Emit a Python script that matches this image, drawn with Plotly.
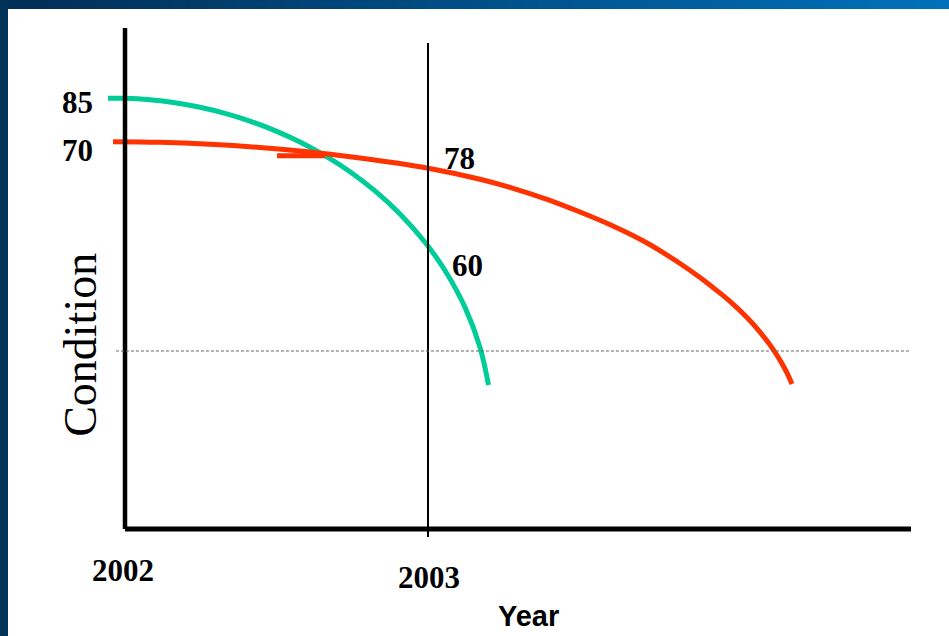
import plotly.graph_objects as go

# Condition curves over time (year, condition index)
green_years = [2001.9439, 2002.0000, 2002.0825, 2002.1650, 2002.2475, 2002.3300,
               2002.4125, 2002.4950, 2002.5776, 2002.6601, 2002.7426, 2002.8251,
               2002.9076, 2002.9901, 2003.0561, 2003.1221, 2003.1716, 2003.1997]
green_cond = [86.14, 86.14, 85.84, 85.24, 84.34, 83.12, 81.58, 79.68, 77.40, 74.68,
              71.46, 67.62, 63.02, 57.36, 51.70, 44.32, 36.32, 28.80]

red_years = [2001.9604, 2002.1155, 2002.2805, 2002.4455, 2002.6106, 2002.7756,
             2002.9967, 2003.1716, 2003.2805, 2003.3927, 2003.5017, 2003.6106,
             2003.7228, 2003.8317, 2003.8977, 2003.9406, 2003.9967, 2004.0528,
             2004.0957, 2004.1386, 2004.1782, 2004.2013]
red_cond = [77.46, 77.34, 76.94, 76.30, 75.40, 74.20, 72.20, 69.94, 68.14, 65.94,
            63.40, 60.60, 57.20, 53.10, 50.30, 48.30, 45.52, 42.28, 39.38, 35.96,
            32.00, 29.02]

# short overlapping red stroke
red_tail_years = [2002.5017, 2002.6601]
red_tail_cond = [74.64, 74.64]

# value labels: (text, year, condition)
value_labels = [("85", 2001.843, 85.3), ("70", 2001.843, 75.8),
                ("78", 2003.104, 74.2), ("60", 2003.129, 52.8)]
year_ticks = [("2002", 2001.993, -8.2), ("2003", 2003.003, -9.6)]

threshold = 35.6
x_start, x_end = 2002.0, 2004.594
y_top = 100.2
marker_year = 2003.0

X_RANGE = [2001.58746, 2004.71947]
Y_RANGE = [-21.4, 105.8]

GREEN = "#00CC99"
RED = "#FF3300"

fig = go.Figure()
fig.add_trace(go.Scatter(x=green_years, y=green_cond, mode="lines",
                         line=dict(color=GREEN, width=5, shape="spline", smoothing=1),
                         hoverinfo="skip", showlegend=False))
fig.add_trace(go.Scatter(x=red_years, y=red_cond, mode="lines",
                         line=dict(color=RED, width=5, shape="spline", smoothing=1),
                         hoverinfo="skip", showlegend=False))
fig.add_trace(go.Scatter(x=red_tail_years, y=red_tail_cond, mode="lines",
                         line=dict(color=RED, width=5),
                         hoverinfo="skip", showlegend=False))

shapes = []
# blue title band (horizontal gradient) and left border
n = 60
c0 = (0, 46, 85)
c1 = (0, 112, 186)
for i in range(n):
    t = i / (n - 1)
    col = "rgb(%d,%d,%d)" % tuple(round(a + (b - a) * t) for a, b in zip(c0, c1))
    shapes.append(dict(type="rect", xref="paper", yref="paper",
                       x0=i / n, x1=(i + 1) / n + 0.002, y0=1 - 9 / 636, y1=1,
                       fillcolor=col, line=dict(width=0), layer="below"))
shapes.append(dict(type="rect", xref="paper", yref="paper", x0=0, x1=8 / 949,
                   y0=0, y1=1, fillcolor="#013359", line=dict(width=0), layer="below"))

# axes
shapes.append(dict(type="line", xref="x", yref="y", x0=x_start, x1=x_start,
                   y0=y_top, y1=0, line=dict(color="black", width=4.5), layer="above"))
shapes.append(dict(type="line", xref="x", yref="y", x0=x_start, x1=x_end,
                   y0=0, y1=0, line=dict(color="black", width=5), layer="above"))
# current-year marker
shapes.append(dict(type="line", xref="x", yref="y", x0=marker_year, x1=marker_year,
                   y0=97.2, y1=-1.6, line=dict(color="black", width=2), layer="above"))
# threshold
shapes.append(dict(type="line", xref="x", yref="y", x0=2001.970, x1=x_end,
                   y0=threshold, y1=threshold,
                   line=dict(color="#666666", width=1, dash="3px,2px"), layer="above"))

serif_bold = dict(family="Liberation Serif, Times New Roman, serif", size=31, color="black")
annotations = []
for txt, xx, yy in value_labels + year_ticks:
    annotations.append(dict(x=xx, y=yy, xref="x", yref="y", text="<b>%s</b>" % txt,
                            showarrow=False, font=serif_bold,
                            xanchor="center", yanchor="middle"))
annotations.append(dict(x=2003.333, y=-17.4, xref="x", yref="y", text="<b>Year</b>",
                        showarrow=False,
                        font=dict(family="Liberation Sans, Arial, sans-serif", size=29,
                                  color="black"),
                        xanchor="center", yanchor="middle"))
annotations.append(dict(x=2001.851, y=36.8, xref="x", yref="y", text="Condition",
                        showarrow=False, textangle=-90,
                        font=dict(family="Liberation Serif, Times New Roman, serif",
                                  size=46, color="black"),
                        xanchor="center", yanchor="middle"))

fig.update_layout(
    width=949, height=636,
    margin=dict(l=0, r=0, t=0, b=0),
    paper_bgcolor="white", plot_bgcolor="white",
    xaxis=dict(range=X_RANGE, visible=False, fixedrange=True),
    yaxis=dict(range=Y_RANGE, visible=False, fixedrange=True),
    shapes=shapes, annotations=annotations, showlegend=False,
)

fig.write_html("out.html")
